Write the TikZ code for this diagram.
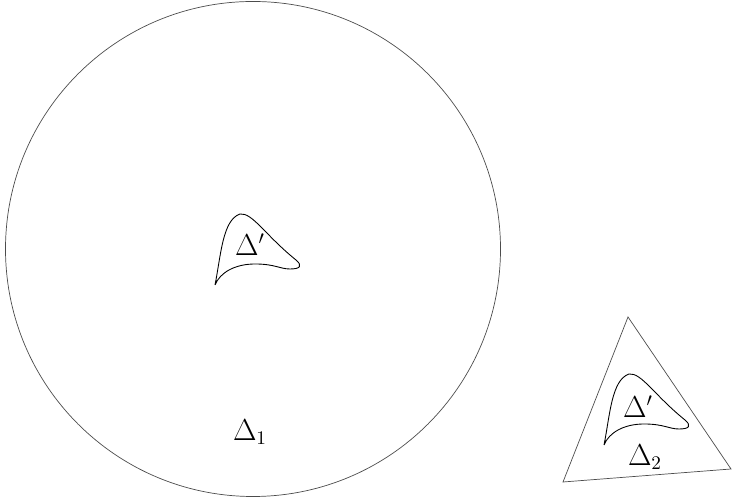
\documentclass[tikz,border=0pt]{standalone}
\usepackage{amsmath,amssymb}
\begin{document}
\begin{tikzpicture}[region/.style={draw=black!70,line width=0.4pt},every node/.style={font=\fontsize{16}{19}\selectfont},
  patch/.pic={\draw[line width=0.5pt] (0,0) .. controls (0.12,0.6) and (0.15,1.3) .. (0.5,1.42) .. controls (0.75,1.45) and (1.0,1.0) .. (1.62,0.5) .. controls (1.76,0.38) and (1.7,0.32) .. (1.5,0.32) .. controls (1.3,0.32) and (1.2,0.42) .. (0.8,0.42) .. controls (0.4,0.42) and (0.1,0.25) .. (0,0);}]
\useasboundingbox (0,0) rectangle (14.64,10);
% big disc
\draw[region] (5.06,5.02) circle (4.95);
\pic at (4.30,4.30) {patch};
\node (d1) at (5.0,5.1) {$\Delta'$};
\node (big) at (5.0,1.36) {$\Delta_1$};
% small triangle
\coordinate (tA) at (12.56,3.66);
\coordinate (tB) at (11.26,0.36);
\coordinate (tC) at (14.62,0.62);
\draw[region] (tA) -- (tB) -- (tC) -- cycle;
\pic at (12.08,1.10) {patch};
\node (d2) at (12.76,1.86) {$\Delta'$};
\node (small) at (12.9,0.86) {$\Delta_2$};
\end{tikzpicture}
\end{document}
